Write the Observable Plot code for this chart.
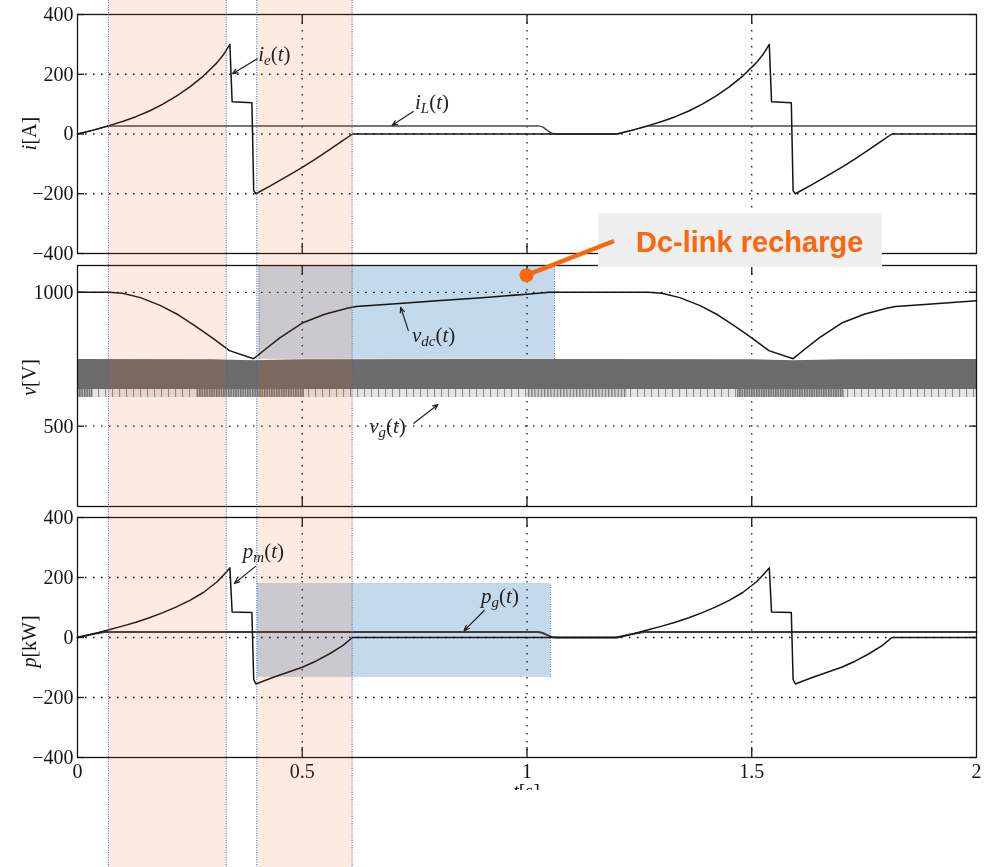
<!DOCTYPE html>
<html>
<head>
<meta charset="utf-8">
<script src="https://cdn.jsdelivr.net/npm/d3@7"></script>
<script src="https://cdn.jsdelivr.net/npm/@observablehq/plot@0.6"></script>
<style>
  body { margin: 0; background: #fff; }
  #fig { position: relative; width: 984px; height: 867px; overflow: hidden; background: #fff; }
  .panel { position: absolute; left: 0; }
  #overlay { position: absolute; left: 0; top: 0; pointer-events: none; }
</style>
</head>
<body>
<div id="fig"></div>
<script>
// ---------------------------------------------------------------------------
// Traces of one 2 s drive cycle (two braking / acceleration events)
// ---------------------------------------------------------------------------

// common time base of the machine-side traces [s]
const switchTime = [0, 0.035, 0.07, 0.1, 0.13, 0.16, 0.19, 0.22, 0.25, 0.28, 0.31, 0.325, 0.339,
  0.344, 0.388, 0.392, 0.397, 0.43, 0.46, 0.5, 0.53, 0.56, 0.59, 0.612,
  1.2, 1.235, 1.27, 1.3, 1.33, 1.36, 1.39, 1.42, 1.45, 1.48, 1.51, 1.525, 1.539,
  1.544, 1.588, 1.592, 1.597, 1.63, 1.66, 1.7, 1.73, 1.76, 1.79, 1.812, 2.0];

// capacitor-bank current i_e(t) [A]
const ieAmp = [0, 13, 28, 42, 58, 77, 100, 127, 158, 194, 238, 266, 300,
  108, 105, -190, -200, -173, -147, -112, -83, -53, -22, 0,
  0, 13, 28, 42, 58, 77, 100, 127, 158, 194, 238, 266, 300,
  108, 105, -190, -200, -173, -147, -112, -83, -53, -22, 0, 0];

// machine power p_m(t) [kW]
const pmKw = [0, 12, 26, 38, 51, 66, 83, 102, 124, 150, 185, 208, 232,
  85, 83, -140, -155, -136, -120, -99, -79, -55, -27, 0,
  0, 12, 26, 38, 51, 66, 83, 102, 124, 150, 185, 208, 232,
  85, 83, -140, -155, -136, -120, -99, -79, -55, -27, 0, 0];

// line current i_L(t) [A]
const iLTime = [0, 0.035, 0.07, 1.025, 1.035, 1.045, 1.055, 1.065, 1.2, 1.235, 1.27, 2.0];
const iLAmp  = [0, 13, 27, 27, 24, 12, 3, 0, 0, 13, 27, 27];

// grid power p_g(t) [kW]
const pgTime = [0, 0.035, 0.06, 1.025, 1.035, 1.045, 1.055, 1.065, 1.2, 1.235, 1.26, 2.0];
const pgKw   = [0, 12, 18, 18, 15, 8, 2, 0, 0, 12, 18, 18];

// dc-link voltage v_dc(t) [V]
const vdcTime = [0, 0.07, 0.1, 0.14, 0.185, 0.225, 0.264, 0.3, 0.338, 0.392, 0.42, 0.45, 0.5,
  0.55, 0.6, 0.62, 0.7, 0.8, 0.9, 1.0, 1.05, 1.2,
  1.27, 1.3, 1.34, 1.385, 1.425, 1.464, 1.5, 1.538, 1.592, 1.62, 1.65, 1.7,
  1.75, 1.8, 1.82, 1.9, 2.0];
const vdcVolt = [1000, 1000, 996, 980, 950, 915, 872, 830, 782, 752, 790, 830, 885,
  918, 940, 947, 956, 968, 980, 993, 1000, 1000,
  1000, 996, 980, 950, 915, 872, 830, 782, 752, 790, 830, 885,
  918, 940, 947, 956, 968];

// grid voltage v_g(t): envelope of the switched waveform [V]
const vgTime = [0, 0.3, 0.392, 0.5, 1.0, 1.5, 1.592, 1.7, 2.0];
const vgHigh = [749, 748, 744, 748, 749, 748, 744, 748, 749];
const vgLow  = [637, 637, 637, 637, 637, 637, 637, 637, 637];
const vgSpikeFloor = 607;
// spike density along the lower envelope
const spikeStart   = [0, 0.035, 0.264, 0.505, 1.0, 1.224, 1.468, 1.706];
const spikeEnd     = [0.035, 0.264, 0.505, 1.0, 1.224, 1.468, 1.706, 2.0];
const spikeDensity = ["dense", "sparse", "dense", "sparse", "medium", "sparse", "dense", "sparse"];

// operating intervals [s]: capacitor discharge / recharge phases
const phaseStart = [0.07, 0.4];
const phaseEnd   = [0.332, 0.612];
// dc-link recharge windows
const rechargeV = {t0: 0.404, t1: 1.061, lo: 750, hi: 1100};
const rechargeP = {t0: 0.4, t1: 1.052, lo: -133, hi: 180};
const rechargeMarker = {t: 1.0, v: 1062};

// axes
const xTicks = [0, 0.5, 1, 1.5, 2];
const xGrid = [0.5, 1, 1.5];
const iTicks = [-400, -200, 0, 200, 400];
const vTicks = [500, 1000];
const pTicks = [-400, -200, 0, 200, 400];

// curve names and their pointers (data units of each panel)
const curveLabels = [
  {panel: "i", main: "i", sub: "e",  t: 0.403, val: 242},
  {panel: "i", main: "i", sub: "L",  t: 0.752, val: 81},
  {panel: "v", main: "v", sub: "dc", t: 0.745, val: 812},
  {panel: "v", main: "v", sub: "g",  t: 0.650, val: 473},
  {panel: "p", main: "p", sub: "m",  t: 0.369, val: 264},
  {panel: "p", main: "p", sub: "g",  t: 0.899, val: 114}
];
const curveArrows = [
  {panel: "i", t1: 0.400, v1: 252, t2: 0.345, v2: 202},
  {panel: "i", t1: 0.747, v1: 75,  t2: 0.700, v2: 29},
  {panel: "v", t1: 0.736, v1: 857, t2: 0.719, v2: 944},
  {panel: "v", t1: 0.748, v1: 511, t2: 0.802, v2: 581},
  {panel: "p", t1: 0.396, v1: 237, t2: 0.349, v2: 180},
  {panel: "p", t1: 0.905, v1: 90,  t2: 0.860, v2: 23}
];

// ---------------------------------------------------------------------------
const zip = (ts, vs) => ts.map((t, i) => ({t, v: vs[i]}));
const W = 984, H = 867, ML = 77, MR = 8, innerW = W - ML - MR;
const SERIF = "'Liberation Serif','DejaVu Serif',serif";
const INK = "#151515";
const BLUE = "#2f6cc0";
const ORANGE = "#f8680e";
const fmt = d => d < 0 ? "\u2212" + Math.abs(d) : String(d);
const gridStyle = {stroke: INK, strokeWidth: 1.3, strokeDasharray: "1.6,6.4"};
const tickStyle = {stroke: INK, strokeWidth: 1.3};

function panel({height, mt, mb, yDomain, yTicks, marks, bottomAxis, name}) {
  const innerH = height - mt - mb;
  const gridY = yTicks.filter(v => v > yDomain[0] && v < yDomain[1]);
  const arrows = curveArrows.filter(a => a.panel === name);
  return Plot.plot({
    width: W, height,
    marginLeft: ML, marginRight: MR, marginTop: mt, marginBottom: mb,
    style: {fontFamily: SERIF, fontSize: "20px", color: INK, background: "transparent", overflow: "visible"},
    x: {domain: [0, 2], axis: null},
    y: {domain: yDomain, axis: null},
    marks: [
      Plot.ruleY(gridY, gridStyle),
      Plot.ruleX(xGrid, gridStyle),
      ...marks,
      Plot.arrow(arrows, {x1: "t1", y1: "v1", x2: "t2", y2: "v2", stroke: "#222", strokeWidth: 1.2, headLength: 7, headAngle: 45}),
      Plot.tickX(xGrid, {...tickStyle, insetBottom: innerH - 10}),
      Plot.tickX(xGrid, {...tickStyle, insetTop: innerH - 10}),
      Plot.tickY(yTicks, {...tickStyle, insetRight: innerW - 7}),
      Plot.tickY(yTicks, {...tickStyle, insetLeft: innerW - 7}),
      Plot.frame({stroke: INK, strokeWidth: 1.3}),
      Plot.axisY(yTicks, {anchor: "left", tickSize: 0, tickPadding: 4, tickFormat: fmt, label: null}),
      bottomAxis ? Plot.axisX(xTicks, {anchor: "bottom", tickSize: 0, tickPadding: 6, tickFormat: d => String(d), label: null}) : null
    ]
  });
}

// current panel
const topA = 0;
const plotA = panel({
  name: "i", height: 262, mt: 14, mb: 9, yDomain: [-400, 400], yTicks: iTicks,
  marks: [
    Plot.line(zip(iLTime, iLAmp), {x: "t", y: "v", stroke: "#4a4a4a", strokeWidth: 1.4}),
    Plot.line(zip(switchTime, ieAmp), {x: "t", y: "v", stroke: INK, strokeWidth: 1.5})
  ]
});

// voltage panel
const topB = 258;
const plotB = panel({
  name: "v", height: 254, mt: 7, mb: 6, yDomain: [200, 1100], yTicks: vTicks,
  marks: [
    ...["dense", "medium", "sparse"].map(k =>
      Plot.rect(spikeStart.map((t0, i) => ({t0, t1: spikeEnd[i], d: spikeDensity[i]})).filter(s => s.d === k),
        {x1: "t0", x2: "t1", y1: vgSpikeFloor, y2: vgLow[0], fill: `url(#spk-${k})`})),
    Plot.areaY(vgTime.map((t, i) => ({t, lo: vgLow[i], hi: vgHigh[i]})), {x: "t", y1: "lo", y2: "hi", fill: "#6b6b6b"}),
    Plot.rect([rechargeV], {x1: "t0", x2: "t1", y1: "lo", y2: "hi", fill: "#c5d9ec", mixBlendMode: "multiply", ariaLabel: "recharge window"}),
    Plot.ruleX([rechargeV.t0, rechargeV.t1], {y1: rechargeV.lo, y2: rechargeV.hi, stroke: BLUE, strokeWidth: 1, strokeDasharray: "1,1.4"}),
    Plot.line(zip(vdcTime, vdcVolt), {x: "t", y: "v", stroke: INK, strokeWidth: 1.5})
  ]
});

// power panel
const topC = 510;
const plotC = panel({
  name: "p", height: 280, mt: 7, mb: 33, yDomain: [-400, 400], yTicks: pTicks, bottomAxis: true,
  marks: [
    Plot.rect([rechargeP], {x1: "t0", x2: "t1", y1: "lo", y2: "hi", fill: "#c5d9ec", mixBlendMode: "multiply", ariaLabel: "recharge window"}),
    Plot.ruleX([rechargeP.t1], {y1: rechargeP.lo, y2: rechargeP.hi, stroke: BLUE, strokeWidth: 1, strokeDasharray: "1,1.4"}),
    Plot.line(zip(pgTime, pgKw), {x: "t", y: "v", stroke: "#3c3c3c", strokeWidth: 2}),
    Plot.line(zip(switchTime, pmKw), {x: "t", y: "v", stroke: INK, strokeWidth: 1.5})
  ]
});

const fig = d3.select("#fig");
[[plotA, topA], [plotB, topB], [plotC, topC]].forEach(([p, top]) => {
  fig.append("div").attr("class", "panel").style("top", top + "px").node().appendChild(p);
  d3.select(p).selectAll('g[aria-label="recharge window"]').style("mix-blend-mode", "multiply");
});

// ---------------------------------------------------------------------------
// overlay: phase shading, curve names, axis titles, call-out
const xs = plotA.scale("x");
const px = t => xs.apply(t);
const yScales = {i: [plotA.scale("y"), topA], v: [plotB.scale("y"), topB], p: [plotC.scale("y"), topC]};
const py = (name, v) => yScales[name][0].apply(v) + yScales[name][1];

const ov = fig.append("svg").attr("id", "overlay").attr("width", W).attr("height", H);
const defs = ov.append("defs");
// comb fill for the switching spikes under the v_g envelope
function comb(id, period, w, color, bg) {
  const p = defs.append("pattern").attr("id", id).attr("patternUnits", "userSpaceOnUse")
    .attr("width", period).attr("height", 2000);
  p.append("rect").attr("width", period).attr("height", 2000).attr("fill", bg);
  p.append("rect").attr("width", w).attr("height", 2000).attr("fill", color);
}
comb("spk-dense", 2.4, 1.4, "#6e6e6e", "#bdbdbd");
comb("spk-medium", 3.2, 1.2, "#7a7a7a", "#d0d0d0");
comb("spk-sparse", 7, 1.1, "#8e8e8e", "#e4e4e4");
defs.append("clipPath").attr("id", "figclip").append("rect").attr("width", W).attr("height", 790);

// discharge / recharge phases
phaseStart.forEach((t0, i) => {
  ov.append("rect").attr("x", px(t0)).attr("y", 0).attr("width", px(phaseEnd[i]) - px(t0)).attr("height", H)
    .attr("fill", "rgb(240,90,10)").attr("fill-opacity", 0.12);
});
[...phaseStart, ...phaseEnd].forEach(t => {
  ov.append("line").attr("x1", px(t)).attr("x2", px(t)).attr("y1", 0).attr("y2", H)
    .attr("stroke", BLUE).attr("stroke-width", 1).attr("stroke-dasharray", "1,1.4");
});

// curve names
curveLabels.forEach(l => {
  const txt = ov.append("text").attr("x", px(l.t)).attr("y", py(l.panel, l.val))
    .attr("font-family", SERIF).attr("font-size", 21).attr("fill", "#222");
  txt.append("tspan").attr("font-style", "italic").text(l.main);
  txt.append("tspan").attr("font-style", "italic").attr("font-size", 15).attr("dy", 4).text(l.sub);
  txt.append("tspan").attr("dy", -4).text("(");
  txt.append("tspan").attr("font-style", "italic").text("t");
  txt.append("tspan").text(")");
});

// axis titles
const titles = [
  {name: "i", v: 0, sym: "i", unit: "[A]"},
  {name: "v", v: 680, sym: "v", unit: "[V]"},
  {name: "p", v: -15, sym: "p", unit: "[kW]"}
];
titles.forEach(a => {
  const y = py(a.name, a.v);
  const txt = ov.append("text").attr("transform", `translate(36,${y}) rotate(-90)`)
    .attr("text-anchor", "middle").attr("font-family", SERIF).attr("font-size", 20).attr("fill", INK);
  txt.append("tspan").attr("font-style", "italic").text(a.sym);
  txt.append("tspan").text(a.unit);
});
const tTitle = ov.append("g").attr("clip-path", "url(#figclip)").append("text")
  .attr("x", px(1)).attr("y", 798).attr("text-anchor", "middle")
  .attr("font-family", SERIF).attr("font-size", 20).attr("fill", INK);
tTitle.append("tspan").attr("font-style", "italic").text("t");
tTitle.append("tspan").text("[s]");

// call-out
const mx = px(rechargeMarker.t), my = py("v", rechargeMarker.v);
ov.append("rect").attr("x", 598).attr("y", 213).attr("width", 284).attr("height", 54).attr("fill", "#efefef");
ov.append("line").attr("x1", mx).attr("y1", my).attr("x2", 614).attr("y2", 241)
  .attr("stroke", ORANGE).attr("stroke-width", 4.5).attr("stroke-linecap", "butt");
ov.append("circle").attr("cx", mx).attr("cy", my).attr("r", 7).attr("fill", ORANGE);
ov.append("text").attr("x", 636).attr("y", 252)
  .attr("font-family", "'Liberation Sans', Arial, sans-serif").attr("font-weight", "bold")
  .attr("font-size", 29).attr("fill", ORANGE).text("Dc-link recharge");
</script>
</body>
</html>
